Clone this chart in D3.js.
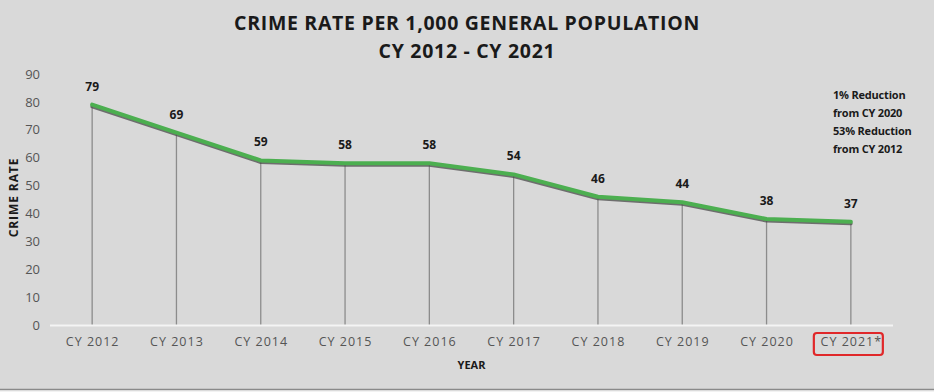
<!DOCTYPE html>
<html><head><meta charset="utf-8">
<script src="https://cdn.jsdelivr.net/npm/d3@7"></script>
<style>
html,body{margin:0;padding:0;background:#d9d9d9;}
svg{display:block;}
</style></head>
<body>
<svg id="chart" width="934" height="392"></svg>
<script>
const years = ["CY 2012","CY 2013","CY 2014","CY 2015","CY 2016","CY 2017","CY 2018","CY 2019","CY 2020","CY 2021*"];
const rates = [79,69,59,58,58,54,46,44,38,37];
const yTicks = [0,10,20,30,40,50,60,70,80,90];
const titleLines = ["CRIME RATE PER 1,000 GENERAL POPULATION","CY 2012 - CY 2021"];
const noteLines = ["1% Reduction","from CY 2020","53% Reduction","from CY 2012"];

const svg = d3.select("#chart");
const W = 934, H = 392;
const m = {left:50, right:41, top:74, bottom:67};
const x = d3.scalePoint().domain(years).range([m.left, W - m.right]).padding(0.5);
const y = d3.scaleLinear().domain([0,90]).range([H - m.bottom, m.top]);

svg.append("rect").attr("width",W).attr("height",H).attr("fill","#d9d9d9");
svg.append("line").attr("x1",0).attr("x2",W).attr("y1",389.5).attr("y2",389.5).attr("stroke","#8a8a8a").attr("stroke-width",1.5);
svg.append("rect").attr("x",0).attr("y",390.5).attr("width",W).attr("height",2).attr("fill","#f2f2f2");

const font = "'Open Sans', 'DejaVu Sans', sans-serif";

// title
svg.selectAll("text.title").data(titleLines).join("text")
  .attr("class","title")
  .attr("x", W/2).attr("y",(d,i)=>30 + i*28)
  .attr("text-anchor","middle")
  .attr("font-family",font).attr("font-weight","bold").attr("font-size",19.5)
  .attr("letter-spacing",0.7)
  .attr("fill","#1a1a1a")
  .text(d=>d);

// drop lines
svg.selectAll("line.drop").data(rates).join("line")
  .attr("class","drop")
  .attr("x1",(d,i)=>x(years[i])).attr("x2",(d,i)=>x(years[i]))
  .attr("y1",d=>y(d)).attr("y2",y(0))
  .attr("stroke","#8c8c8c").attr("stroke-width",1.3);

// baseline axis
const xAxis = d3.axisBottom(x).tickSize(0).tickPadding(12);
const gx = svg.append("g").attr("transform",`translate(0,${y(0)})`).call(xAxis);
gx.select(".domain").remove();
gx.append("line").attr("x1",m.left).attr("x2",W - m.right).attr("y1",0.5).attr("y2",0.5)
  .attr("stroke","#f4f4f4").attr("stroke-width",2);
gx.selectAll(".tick text").attr("font-family",font).attr("font-size",12.5)
  .attr("fill","#555").attr("letter-spacing",1).attr("dy","0.71em");

// y axis
const yAxis = d3.axisLeft(y).tickValues(yTicks).tickSize(0).tickPadding(0);
const gy = svg.append("g").attr("transform",`translate(40,0)`).call(yAxis);
gy.select(".domain").remove();
gy.selectAll(".tick text").attr("font-family",font).attr("font-size",13).attr("fill","#555");

// line with shadow
const line = d3.line().x((d,i)=>x(years[i])).y(d=>y(d));
svg.append("path").datum(rates).attr("d",line)
  .attr("transform","translate(0,1.8)")
  .attr("fill","none").attr("stroke","#4a4a4a").attr("stroke-opacity",0.75).attr("stroke-width",3.5)
  .attr("stroke-linejoin","round").attr("stroke-linecap","round");
svg.append("path").datum(rates).attr("d",line)
  .attr("fill","none").attr("stroke","#4caf50").attr("stroke-width",4)
  .attr("stroke-linejoin","round").attr("stroke-linecap","round");

// data labels
svg.selectAll("text.lbl").data(rates).join("text")
  .attr("class","lbl")
  .attr("x",(d,i)=>x(years[i])).attr("y",d=>y(d)-14)
  .attr("text-anchor","middle")
  .attr("font-family",font).attr("font-weight","bold").attr("font-size",12)
  .attr("fill","#1a1a1a").text(d=>d);

// axis titles
svg.append("text").attr("x",(m.left + W - m.right)/2).attr("y",369)
  .attr("text-anchor","middle").attr("font-family",font).attr("font-weight","bold")
  .attr("font-size",11).attr("fill","#1a1a1a").text("YEAR");
svg.append("text").attr("transform",`translate(18,${(m.top + H - m.bottom)/2 - 2}) rotate(-90)`)
  .attr("text-anchor","middle").attr("font-family",font).attr("font-weight","bold")
  .attr("font-size",12).attr("letter-spacing",0.9).attr("fill","#1a1a1a").text("CRIME RATE");

// annotation
svg.selectAll("text.note").data(noteLines).join("text")
  .attr("class","note")
  .attr("x",833).attr("y",(d,i)=>99 + i*18)
  .attr("font-family",font).attr("font-weight","bold").attr("font-size",11)
  .attr("letter-spacing",-0.2)
  .attr("fill","#1a1a1a").text(d=>d);

// highlight box around last label
const lastX = x(years[years.length-1]);
svg.append("rect").attr("x",lastX-37).attr("y",333).attr("width",69).attr("height",22)
  .attr("rx",3).attr("fill","none").attr("stroke","#e0282a").attr("stroke-width",2.2);
</script>
</body></html>
